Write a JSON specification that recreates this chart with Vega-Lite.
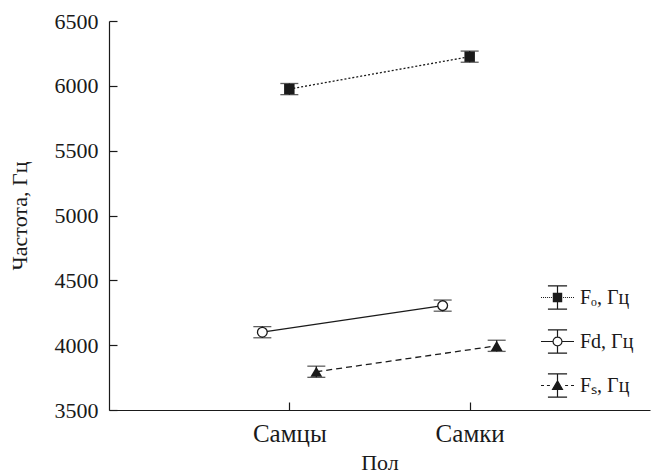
{
  "$schema": "https://vega.github.io/schema/vega-lite/v6.json",
  "width": 541,
  "height": 389,
  "autosize": "none",
  "padding": {"left": 109, "top": 21, "right": 2, "bottom": 65},
  "background": "white",
  "config": {
    "view": {"stroke": null},
    "font": "Liberation Serif",
    "axis": {
      "domainColor": "#1a1a1a",
      "tickColor": "#1a1a1a",
      "labelColor": "#1a1a1a",
      "titleColor": "#1a1a1a",
      "titleFont": "Liberation Serif",
      "titleFontWeight": "normal",
      "grid": false,
      "tickSize": -8,
      "domainWidth": 1.2,
      "tickWidth": 1.2
    },
    "legend": {
      "labelFont": "Liberation Serif",
      "labelColor": "#1a1a1a"
    }
  },
  "data": {
    "values": [
      {"sex": "Самцы", "series": "Fₒ, Гц", "value": 5975, "lo": 5932, "hi": 6018},
      {"sex": "Самки", "series": "Fₒ, Гц", "value": 6225, "lo": 6182, "hi": 6268},
      {"sex": "Самцы", "series": "Fd, Гц", "value": 4100, "lo": 4057, "hi": 4143},
      {"sex": "Самки", "series": "Fd, Гц", "value": 4305, "lo": 4262, "hi": 4348},
      {"sex": "Самцы", "series": "Fₛ, Гц", "value": 3795, "lo": 3752, "hi": 3838},
      {"sex": "Самки", "series": "Fₛ, Гц", "value": 3995, "lo": 3952, "hi": 4038}
    ]
  },
  "encoding": {
    "x": {
      "field": "sex",
      "type": "nominal",
      "sort": ["Самцы", "Самки"],
      "scale": {"type": "point", "padding": 1},
      "axis": {
        "title": "Пол",
        "labelAngle": 0,
        "labelFont": "Liberation Serif",
        "labelFontSize": 25,
        "titleFontSize": 22,
        "labelPadding": 19,
        "titlePadding": 6
      }
    },
    "y": {
      "field": "value",
      "type": "quantitative",
      "scale": {"domain": [3500, 6500], "nice": false, "zero": false},
      "axis": {
        "title": "Частота, Гц",
        "values": [3500, 4000, 4500, 5000, 5500, 6000, 6500],
        "format": "d",
        "labelFont": "Liberation Serif",
        "labelFontSize": 22,
        "titleFontSize": 22,
        "labelPadding": 19,
        "titlePadding": 23
      }
    }
  },
  "layer": [
    {
      "transform": [{"filter": "datum.series == 'Fₒ, Гц'"}],
      "mark": {"type": "line", "color": "#1a1a1a", "strokeWidth": 1.3, "strokeDash": [2, 2]}
    },
    {
      "transform": [{"filter": "datum.series == 'Fd, Гц'"}],
      "mark": {"type": "line", "color": "#1a1a1a", "strokeWidth": 1.3, "xOffset": -27}
    },
    {
      "transform": [{"filter": "datum.series == 'Fₛ, Гц'"}],
      "mark": {"type": "line", "color": "#1a1a1a", "strokeWidth": 1.3, "strokeDash": [6, 4], "xOffset": 27}
    },
    {
      "transform": [{"filter": "datum.series == 'Fₒ, Гц'"}],
      "mark": {"type": "rule", "color": "#1a1a1a", "strokeWidth": 1.3},
      "encoding": {"y": {"field": "lo", "type": "quantitative"}, "y2": {"field": "hi"}}
    },
    {
      "transform": [{"filter": "datum.series == 'Fd, Гц'"}],
      "mark": {"type": "rule", "color": "#1a1a1a", "strokeWidth": 1.3, "xOffset": -27},
      "encoding": {"y": {"field": "lo", "type": "quantitative"}, "y2": {"field": "hi"}}
    },
    {
      "transform": [{"filter": "datum.series == 'Fₛ, Гц'"}],
      "mark": {"type": "rule", "color": "#1a1a1a", "strokeWidth": 1.3, "xOffset": 27},
      "encoding": {"y": {"field": "lo", "type": "quantitative"}, "y2": {"field": "hi"}}
    },
    {
      "transform": [
        {"filter": "datum.series == 'Fₒ, Гц'"},
        {"fold": ["lo", "hi"], "as": ["end", "cap"]}
      ],
      "mark": {"type": "tick", "color": "#1a1a1a", "size": 18, "thickness": 1.3, "orient": "horizontal"},
      "encoding": {"y": {"field": "cap", "type": "quantitative"}}
    },
    {
      "transform": [
        {"filter": "datum.series == 'Fd, Гц'"},
        {"fold": ["lo", "hi"], "as": ["end", "cap"]}
      ],
      "mark": {"type": "tick", "color": "#1a1a1a", "size": 18, "thickness": 1.3, "orient": "horizontal", "xOffset": -27},
      "encoding": {"y": {"field": "cap", "type": "quantitative"}}
    },
    {
      "transform": [
        {"filter": "datum.series == 'Fₛ, Гц'"},
        {"fold": ["lo", "hi"], "as": ["end", "cap"]}
      ],
      "mark": {"type": "tick", "color": "#1a1a1a", "size": 18, "thickness": 1.3, "orient": "horizontal", "xOffset": 27},
      "encoding": {"y": {"field": "cap", "type": "quantitative"}}
    },
    {
      "transform": [{"filter": "datum.series == 'Fₒ, Гц'"}],
      "mark": {"type": "point", "shape": "square", "filled": true, "color": "#1a1a1a", "size": 110, "opacity": 1}
    },
    {
      "transform": [{"filter": "datum.series == 'Fd, Гц'"}],
      "mark": {"type": "point", "shape": "circle", "fill": "white", "stroke": "#1a1a1a", "strokeWidth": 1.3, "size": 95, "opacity": 1, "xOffset": -27}
    },
    {
      "transform": [{"filter": "datum.series == 'Fₛ, Гц'"}],
      "mark": {"type": "point", "shape": "triangle-up", "filled": true, "color": "#1a1a1a", "size": 140, "opacity": 1, "xOffset": 27}
    },
    {
      "mark": {"type": "point", "opacity": 0, "strokeWidth": 1.2},
      "encoding": {
        "shape": {
          "field": "series",
          "type": "nominal",
          "scale": {
            "domain": ["Fₒ, Гц", "Fd, Гц", "Fₛ, Гц"],
            "range": [
              "M-0.58,-0.7H0.58M-0.58,0.7H0.58M0,-0.7V-0.25M0,0.25V0.7M-1,0H-0.94M-0.88,0H-0.82M-0.76,0H-0.7M-0.64,0H-0.58M-0.52,0H-0.46M-0.4,0H-0.34M0.34,0H0.4M0.46,0H0.52M0.58,0H0.64M0.7,0H0.76M0.82,0H0.88M0.94,0H1M-0.25,-0.25H0.25V0.25H-0.25Z",
              "M-0.58,-0.7H0.58M-0.58,0.7H0.58M0,-0.7V-0.27M0,0.27V0.7M-1,0H-0.27M0.27,0H1M0.27,0A0.27,0.27 0 1,1 -0.27,0A0.27,0.27 0 1,1 0.27,0Z",
              "M-0.58,-0.7H0.58M-0.58,0.7H0.58M0,-0.7V-0.28M0,0.24V0.7M-1,0H-0.82M-0.64,0H-0.46M0.46,0H0.64M0.82,0H1M0,-0.28L0.3,0.24H-0.3Z"
            ]
          },
          "legend": {
            "title": null,
            "orient": "none",
            "legendX": 431,
            "legendY": 259,
            "symbolSize": 1089,
            "symbolOpacity": 1,
            "symbolStrokeColor": "#1a1a1a",
            "symbolStrokeWidth": 1.2,
            "labelFontSize": 20,
            "labelOffset": 5,
            "rowPadding": 12,
            "padding": 0
          }
        },
        "fill": {
          "field": "series",
          "type": "nominal",
          "scale": {
            "domain": ["Fₒ, Гц", "Fd, Гц", "Fₛ, Гц"],
            "range": ["#1a1a1a", "white", "#1a1a1a"]
          },
          "legend": {
            "title": null,
            "orient": "none",
            "legendX": 431,
            "legendY": 259,
            "symbolSize": 1089,
            "symbolOpacity": 1,
            "symbolStrokeColor": "#1a1a1a",
            "symbolStrokeWidth": 1.2,
            "labelFontSize": 20,
            "labelOffset": 5,
            "rowPadding": 12,
            "padding": 0
          }
        },
        "stroke": {
          "field": "series",
          "type": "nominal",
          "scale": {
            "domain": ["Fₒ, Гц", "Fd, Гц", "Fₛ, Гц"],
            "range": ["#1a1a1a", "#1a1a1a", "#1a1a1a"]
          },
          "legend": {
            "title": null,
            "orient": "none",
            "legendX": 431,
            "legendY": 259,
            "symbolSize": 1089,
            "symbolOpacity": 1,
            "symbolStrokeWidth": 1.2,
            "labelFontSize": 20,
            "labelOffset": 5,
            "rowPadding": 12,
            "padding": 0
          }
        }
      }
    }
  ]
}
